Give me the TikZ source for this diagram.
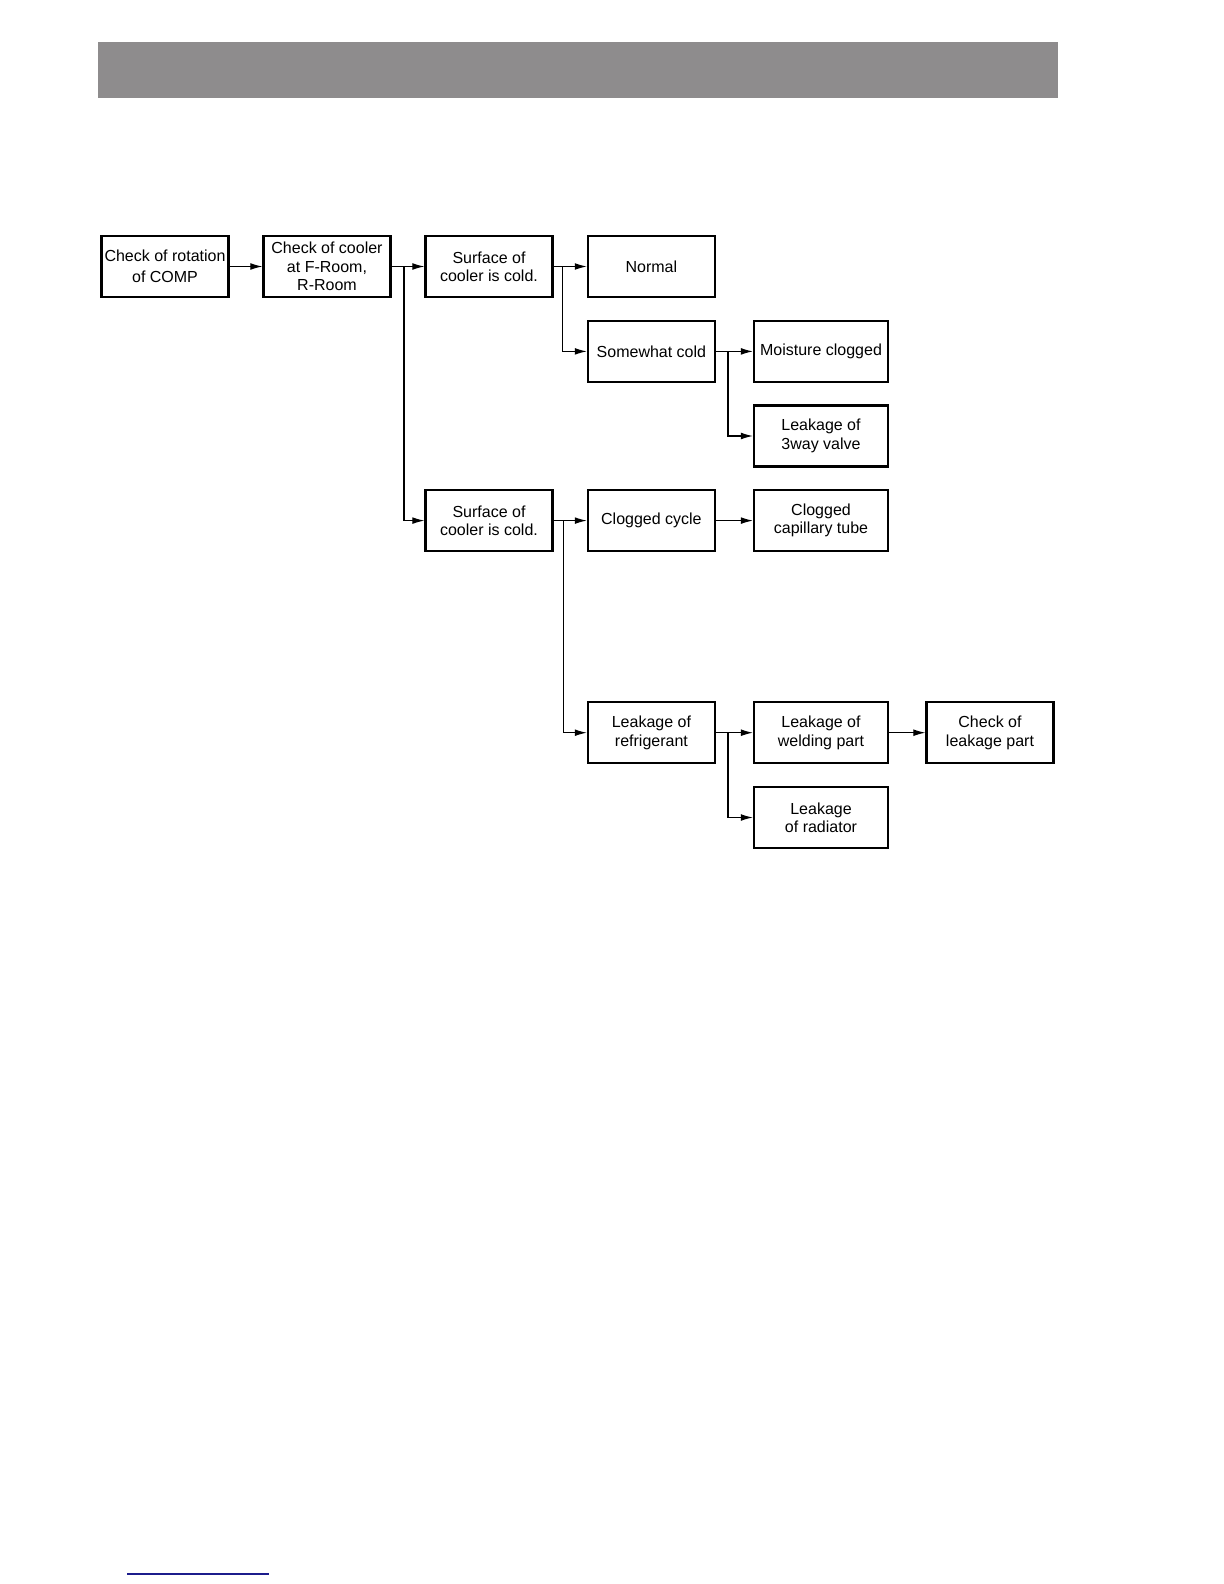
\documentclass[tikz,border=0pt]{standalone}
\usepackage{fontspec}
\setmainfont{Liberation Sans}
\usetikzlibrary{arrows.meta}
\definecolor{bargray}{RGB}{142,140,141}
\definecolor{linkblue}{RGB}{28,28,140}
\begin{document}
\begin{tikzpicture}[x=0.5pt,y=-0.5pt,
 box/.style={draw, line width=1.1pt, minimum width=63.5pt, minimum height=30.5pt, align=center, font=\fontsize{8}{9.2}\selectfont, inner sep=1pt},
 wbox/.style={box, minimum width=67pt},
 conn/.style={line width=0.55pt, -{Latex[length=6pt,width=3.4pt]}},
 plain/.style={line width=0.55pt}]
\useasboundingbox (0,0) rectangle (1224,1584);
% header bar
\fill[bargray] (98,42.5) rectangle (1058,98);
% bottom link line
\draw[linkblue, line width=1pt] (127,1574) -- (269,1574);

\node[box] (A) at (165,266.5) {Check of rotation\\[1.5pt]of COMP};
\node[box] (B) at (327,266.5) {Check of cooler\\at F-Room,\\R-Room};
\node[box] (C) at (489,266.5) {Surface of\\cooler is cold.};
\node[box] (D) at (651.4,266.5) {Normal};
\node[box] (E) at (651.4,351.4) {Somewhat cold};
\node[wbox] (F) at (821,351.4) {Moisture clogged};
\node[wbox] (G) at (821,436) {Leakage of\\3way valve};
\node[box] (H) at (489,520.6) {Surface of\\cooler is cold.};
\node[box] (I) at (651.4,520.6) {Clogged cycle};
\node[wbox] (J) at (821,520.6) {Clogged\\capillary tube};
\node[box] (K) at (651.4,732.7) {Leakage of\\refrigerant};
\node[wbox] (L) at (821,732.7) {Leakage of\\welding part};
\node[box] (M) at (990,732.7) {Check of\\leakage part};
\node[wbox] (N) at (821,817.5) {Leakage\\of radiator};

\coordinate (tB) at (404,266.5);
\coordinate (tC) at (562.5,266.5);
\coordinate (tE) at (728,351.4);
\coordinate (tH) at (563.5,520.6);
\coordinate (tK) at (728,732.7);

\draw[conn] (A.east) -- (B.west);
\draw[conn] (B.east) -- (C.west);
\draw[conn] (tB) |- (H.west);
\draw[conn] (C.east) -- (D.west);
\draw[conn] (tC) |- (E.west);
\draw[conn] (E.east) -- (F.west);
\draw[conn] (tE) |- (G.west);
\draw[conn] (H.east) -- (I.west);
\draw[conn] (tH) |- (K.west);
\draw[conn] (I.east) -- (J.west);
\draw[conn] (K.east) -- (L.west);
\draw[conn] (tK) |- (N.west);
\draw[conn] (L.east) -- (M.west);
\end{tikzpicture}
\end{document}
